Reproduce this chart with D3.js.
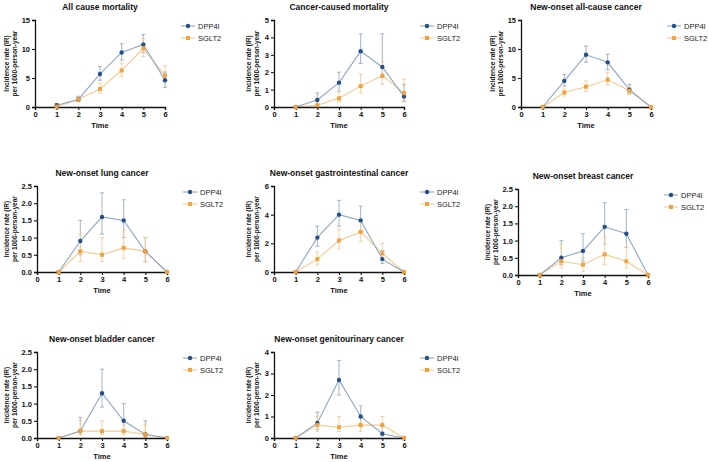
<!DOCTYPE html>
<html>
<head>
<meta charset="utf-8">
<script src="https://cdn.jsdelivr.net/npm/d3@7"></script>
<style>
  body { margin: 0; background: #fff; }
  svg { display: block; font-family: Arial, "Liberation Sans", Helvetica, sans-serif; }
</style>
</head>
<body>
<div id="chart"></div>
<script>
// Chart data
var times = [1, 2, 3, 4, 5, 6];
var xTicks = [0, 1, 2, 3, 4, 5, 6];
var seriesNames = ["DPP4I", "SGLT2"];
var titles = [
  "All cause mortality",
  "Cancer-caused mortality",
  "New-onset all-cause cancer",
  "New-onset lung cancer",
  "New-onset gastrointestinal cancer",
  "New-onset breast cancer",
  "New-onset bladder cancer",
  "New-onset genitourinary cancer"
];
var yMax = [15, 5, 15, 2.5, 6, 2.5, 2.5, 4];
var yStep = [5, 1, 5, 0.5, 2, 0.5, 0.5, 1];

// DPP4I: value, lower, upper
var dppValue = [
  [0.3, 1.3, 5.7, 9.4, 10.8, 4.6],
  [0, 0.4, 1.4, 3.2, 2.3, 0.6],
  [0, 4.5, 9.0, 7.7, 3.0, 0],
  [0, 0.9, 1.6, 1.5, 0.6, 0],
  [0, 2.4, 4.0, 3.6, 0.9, 0],
  [0, 0.5, 0.7, 1.4, 1.2, 0],
  [0, 0.2, 1.3, 0.5, 0.1, 0],
  [0, 0.7, 2.7, 1.0, 0.2, 0]
];
var dppLow = [
  [0.1, 1.0, 4.6, 8.1, 9.4, 3.4],
  [0, 0.1, 0.9, 2.5, 1.7, 0.3],
  [0, 3.6, 7.7, 6.4, 2.3, 0],
  [0, 0.5, 1.1, 1.0, 0.3, 0],
  [0, 1.8, 3.2, 2.8, 0.6, 0],
  [0, 0.3, 0.4, 0.9, 0.8, 0],
  [0, 0.1, 0.9, 0.2, 0, 0],
  [0, 0.4, 2.0, 0.6, 0.1, 0]
];
var dppHigh = [
  [0.6, 1.8, 7.0, 10.9, 12.5, 6.0],
  [0, 0.8, 2.0, 4.2, 4.2, 1.3],
  [0, 5.6, 10.5, 9.1, 3.9, 0],
  [0, 1.5, 2.3, 2.1, 1.0, 0],
  [0, 3.2, 5.0, 4.6, 1.5, 0],
  [0, 1.0, 1.2, 2.1, 1.9, 0],
  [0, 0.6, 2.0, 1.0, 0.5, 0],
  [0, 1.2, 3.6, 1.5, 0.6, 0]
];

// SGLT2: value, lower, upper
var sgltValue = [
  [0.05, 1.3, 3.1, 6.3, 10.1, 5.4],
  [0, 0.1, 0.5, 1.2, 1.8, 0.8],
  [0, 2.5, 3.5, 4.7, 2.8, 0],
  [0, 0.6, 0.5, 0.7, 0.6, 0],
  [0, 0.9, 2.2, 2.8, 1.3, 0],
  [0, 0.4, 0.3, 0.6, 0.4, 0],
  [0, 0.2, 0.2, 0.2, 0.1, 0],
  [0, 0.6, 0.5, 0.6, 0.6, 0]
];
var sgltLow = [
  [0, 1.0, 2.4, 5.3, 8.7, 4.4],
  [0, 0, 0.3, 0.8, 1.3, 0.4],
  [0, 1.9, 2.7, 3.8, 2.2, 0],
  [0, 0.3, 0.3, 0.4, 0.3, 0],
  [0, 0.5, 1.6, 2.1, 0.8, 0],
  [0, 0.2, 0.1, 0.3, 0.2, 0],
  [0, 0.1, 0.1, 0.1, 0, 0],
  [0, 0.3, 0.3, 0.3, 0.3, 0]
];
var sgltHigh = [
  [0.3, 1.9, 4.1, 7.6, 11.8, 7.1],
  [0, 0.2, 0.9, 1.9, 2.6, 1.6],
  [0, 3.1, 4.5, 5.9, 3.4, 0],
  [0, 1.1, 1.0, 1.2, 1.0, 0],
  [0, 1.4, 3.0, 3.6, 2.0, 0],
  [0, 0.9, 0.5, 1.1, 0.8, 0],
  [0, 0.5, 0.5, 0.4, 0.4, 0],
  [0, 1.0, 1.0, 1.0, 1.0, 0]
];

// Panel placement (pixels): left of axis, top (y max), bottom (y 0), y-label offset
var layout = [
  { left: 35, top: 20, bottom: 107, lab: 28 },
  { left: 274, top: 20, bottom: 107, lab: 25 },
  { left: 521, top: 20, bottom: 107, lab: 28 },
  { left: 37, top: 186, bottom: 272, lab: 30 },
  { left: 274, top: 186, bottom: 272, lab: 25 },
  { left: 518, top: 189, bottom: 275, lab: 30 },
  { left: 37, top: 352, bottom: 438, lab: 30 },
  { left: 274, top: 352, bottom: 438, lab: 25 }
];
var plotWidth = 130;

var colors = {
  DPP4I: { mark: "#24508a", line: "#8ea6c8", err: "#9aabc0" },
  SGLT2: { mark: "#f2a23c", line: "#f5c98e", err: "#f4cc96" }
};

var svg = d3.select("#chart")
  .append("svg")
  .attr("width", 709)
  .attr("height", 462);

titles.forEach(function(title, i) {
  var L = layout[i];
  var g = svg.append("g");

  var x = d3.scaleLinear().domain([0, 6]).range([L.left, L.left + plotWidth]);
  var y = d3.scaleLinear().domain([0, yMax[i]]).range([L.bottom, L.top]);

  var yTicks = d3.range(0, yMax[i] + yStep[i] / 2, yStep[i]);
  var fmt = yStep[i] < 1 ? d3.format(".1f") : d3.format("d");

  var series = [
    { name: "DPP4I", v: dppValue[i], lo: dppLow[i], hi: dppHigh[i] },
    { name: "SGLT2", v: sgltValue[i], lo: sgltLow[i], hi: sgltHigh[i] }
  ];

  // Lines
  var line = d3.line().x(function(d) { return x(d.t); }).y(function(d) { return y(d.v); });
  series.slice().reverse().forEach(function(s) {
    var pts = times.map(function(t, k) { return { t: t, v: s.v[k] }; });
    g.append("path")
      .datum(pts)
      .attr("d", line)
      .attr("fill", "none")
      .attr("stroke", colors[s.name].line)
      .attr("stroke-width", 1.1);
  });

  // Error bars
  series.forEach(function(s) {
    times.forEach(function(t, k) {
      if (s.hi[k] - s.lo[k] <= 0) return;
      var cx = x(t);
      var c = colors[s.name].err;
      g.append("line").attr("x1", cx).attr("x2", cx)
        .attr("y1", y(s.lo[k])).attr("y2", y(s.hi[k]))
        .attr("stroke", c).attr("stroke-width", 0.9);
      [s.lo[k], s.hi[k]].forEach(function(e) {
        g.append("line").attr("x1", cx - 2).attr("x2", cx + 2)
          .attr("y1", y(e)).attr("y2", y(e))
          .attr("stroke", c).attr("stroke-width", 0.9);
      });
    });
  });

  // Axes
  var xAxis = d3.axisBottom(x).tickValues(xTicks).tickFormat(d3.format("d")).tickSize(3).tickPadding(2);
  var yAxis = d3.axisLeft(y).tickValues(yTicks).tickFormat(fmt).tickSize(3).tickPadding(2);

  var gx = g.append("g").attr("transform", "translate(0," + L.bottom + ")").call(xAxis);
  var gy = g.append("g").attr("transform", "translate(" + L.left + ",0)").call(yAxis);
  [gx, gy].forEach(function(a) {
    a.select(".domain").attr("stroke", "#111").attr("stroke-width", 1.3);
    a.selectAll(".tick line").attr("stroke", "#111").attr("stroke-width", 1.1);
    a.selectAll(".tick text")
      .attr("fill", "#111")
      .style("font-size", "7.5px")
      .style("font-weight", "bold");
  });

  // Markers
  series.forEach(function(s) {
    times.forEach(function(t, k) {
      var cx = x(t), cy = y(s.v[k]);
      if (s.name === "DPP4I") {
        g.append("circle").attr("cx", cx).attr("cy", cy).attr("r", 2.2)
          .attr("fill", colors[s.name].mark);
      } else {
        g.append("rect").attr("x", cx - 2).attr("y", cy - 2)
          .attr("width", 4).attr("height", 4)
          .attr("fill", colors[s.name].mark);
      }
    });
  });

  // Title
  g.append("text")
    .attr("x", L.left + plotWidth / 2)
    .attr("y", L.top - 10)
    .attr("text-anchor", "middle")
    .style("font-size", "8.5px")
    .style("font-weight", "bold")
    .attr("fill", "#111")
    .text(title);

  // X axis title
  g.append("text")
    .attr("x", x(3))
    .attr("y", L.bottom + 21)
    .attr("text-anchor", "middle")
    .style("font-size", "7.5px")
    .style("font-weight", "bold")
    .attr("fill", "#111")
    .text("Time");

  // Y axis title (two lines)
  var midY = (L.top + L.bottom) / 2;
  ["Incidence rate (IR)", "per 1000-person-year"].forEach(function(txt, j) {
    var px = L.left - L.lab + j * 8 + 2;
    g.append("text")
      .attr("transform", "translate(" + px + "," + midY + ") rotate(-90)")
      .attr("text-anchor", "middle")
      .style("font-size", "6.5px")
      .style("font-weight", "bold")
      .attr("fill", "#111")
      .text(txt);
  });

  // Legend
  var lx = L.left + plotWidth + 23;
  seriesNames.forEach(function(name, j) {
    var ly = L.top + 6 + j * 12;
    g.append("line").attr("x1", lx - 7).attr("x2", lx + 7)
      .attr("y1", ly).attr("y2", ly)
      .attr("stroke", colors[name].line).attr("stroke-width", 1.1);
    if (name === "DPP4I") {
      g.append("circle").attr("cx", lx).attr("cy", ly).attr("r", 2.2).attr("fill", colors[name].mark);
    } else {
      g.append("rect").attr("x", lx - 2).attr("y", ly - 2).attr("width", 4).attr("height", 4)
        .attr("fill", colors[name].mark);
    }
    g.append("text")
      .attr("x", lx + 10)
      .attr("y", ly + 2.7)
      .style("font-size", "7.5px")
      .attr("fill", "#222")
      .text(name);
  });
});
</script>
</body>
</html>
